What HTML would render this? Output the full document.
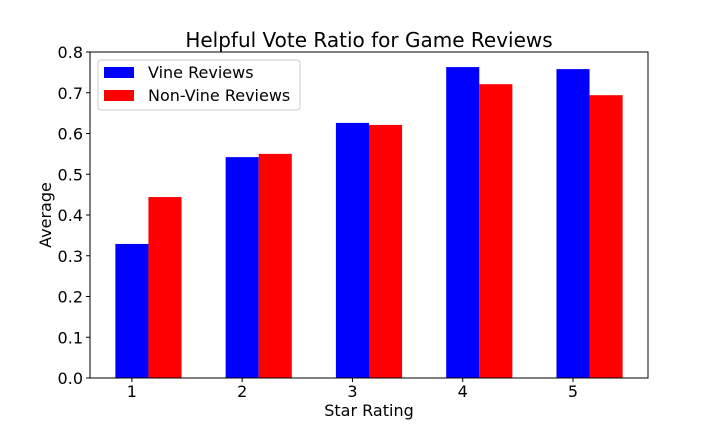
<!DOCTYPE html>
<html><head><meta charset="utf-8"><style>
body{margin:0;background:#fff;}
svg text{font-family:"DejaVu Sans","Liberation Sans",sans-serif;fill:#000;}
</style></head><body>
<svg id="chart" width="720" height="432" xmlns="http://www.w3.org/2000/svg">
<rect x="0" y="0" width="720" height="432" fill="#fff"/>
<g id="bars"></g>
<rect x="90" y="52" width="558" height="326" fill="none" stroke="#000" stroke-width="1"/>
<g id="axes"></g>
<text x="369" y="47" font-size="20" text-anchor="middle">Helpful Vote Ratio for Game Reviews</text>
<text x="369" y="416" font-size="16" text-anchor="middle">Star Rating</text>
<text x="51" y="215" font-size="16" text-anchor="middle" transform="rotate(-90 51 215)">Average</text>
<g>
<rect x="98" y="60" width="202" height="50" fill="#fff" stroke="#ccc" rx="3"/>
<rect x="104" y="67" width="30" height="11" fill="#0000ff"/>
<text x="148" y="78" font-size="16">Vine Reviews</text>
<rect x="104" y="90" width="30" height="11" fill="#ff0000"/>
<text x="148" y="101" font-size="16">Non-Vine Reviews</text>
</g>
</svg>
<script>
const categories=[1,2,3,4,5];
const vineValues=[0.329,0.542,0.626,0.763,0.758];
const nonVineValues=[0.444,0.550,0.621,0.721,0.694];
const yTicks=[0,0.1,0.2,0.3,0.4,0.5,0.6,0.7,0.8];
const NS="http://www.w3.org/2000/svg";
const X0=90,X1=648,Y0=378,Y1=52,xmin=0.62,xmax=5.68,ymin=0,ymax=0.8,bw=0.3;
const xs=v=>X0+(v-xmin)/(xmax-xmin)*(X1-X0);
const ys=v=>Y0-(v-ymin)/(ymax-ymin)*(Y0-Y1);
const bars=document.getElementById('bars'),axes=document.getElementById('axes');
function mk(t,a){const e=document.createElementNS(NS,t);for(const k in a)e.setAttribute(k,a[k]);return e;}
categories.forEach((c,i)=>{
 const r1=mk('rect',{x:xs(c-bw/2),y:ys(vineValues[i]),width:xs(c+bw/2)-xs(c-bw/2),height:ys(0)-ys(vineValues[i]),fill:'#0000ff'});
 
 
 bars.appendChild(r1);
 const r2=mk('rect',{x:xs(c+bw/2),y:ys(nonVineValues[i]),width:xs(c+1.5*bw)-xs(c+bw/2),height:ys(0)-ys(nonVineValues[i]),fill:'#ff0000'});
 
 
 bars.appendChild(r2);
 const tk=mk('line',{x1:xs(c),x2:xs(c),y1:Y0,y2:Y0+4,stroke:'#000'});
 
 
 axes.appendChild(tk);
 const tl=mk('text',{x:xs(c),y:Y0+19,'font-size':16,'text-anchor':'middle'});
 tl.textContent=c;
 
 
 axes.appendChild(tl);
});
yTicks.forEach(v=>{
 const tk=mk('line',{x1:X0-4,x2:X0,y1:ys(v),y2:ys(v),stroke:'#000'});
 
 
 axes.appendChild(tk);
 const tl=mk('text',{x:X0-7,y:ys(v)+6,'font-size':16,'text-anchor':'end'});
 tl.textContent=v.toFixed(1);
 
 
 axes.appendChild(tl);
});
</script>
</body></html>
